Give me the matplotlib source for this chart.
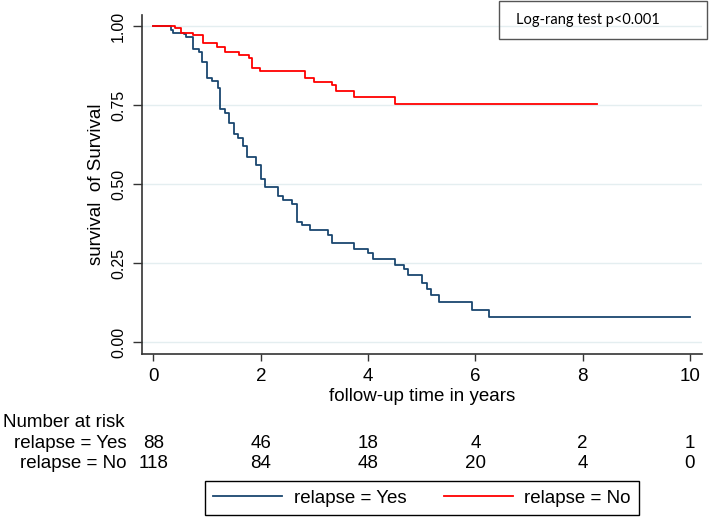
import numpy as np
import matplotlib.pyplot as plt
import matplotlib.transforms as mtransforms
from matplotlib.patches import Rectangle

# Kaplan-Meier steps (time in years, survival after the step)
yes_time = [0, 0.32, 0.37, 0.56, 0.60, 0.73, 0.84, 0.91, 1.00, 1.10, 1.21, 1.24, 1.33,
            1.40, 1.50, 1.58, 1.66, 1.74, 1.91, 2.00, 2.08, 2.33, 2.41, 2.59, 2.67,
            2.76, 2.92, 3.26, 3.33, 3.74, 4.00, 4.09, 4.50, 4.67, 4.75, 5.00, 5.09,
            5.17, 5.33, 5.93, 6.26, 10.0]
yes_surv = [1.0, 0.989, 0.977, 0.975, 0.964, 0.929, 0.917, 0.885, 0.837, 0.826, 0.803,
            0.737, 0.726, 0.692, 0.658, 0.647, 0.622, 0.587, 0.561, 0.515, 0.490, 0.463,
            0.450, 0.436, 0.381, 0.371, 0.355, 0.339, 0.313, 0.294, 0.281, 0.262, 0.244,
            0.231, 0.212, 0.187, 0.168, 0.149, 0.127, 0.102, 0.079, 0.079]

no_time = [0, 0.40, 0.51, 0.74, 0.92, 1.18, 1.33, 1.59, 1.78, 1.83, 1.99, 2.82, 2.99,
           3.32, 3.40, 3.74, 4.50, 8.26]
no_surv = [1.0, 0.993, 0.979, 0.971, 0.947, 0.935, 0.919, 0.908, 0.900, 0.866, 0.859,
           0.835, 0.824, 0.813, 0.795, 0.777, 0.752, 0.752]

# number at risk table
risk_times = [0, 2, 4, 6, 8, 10]
risk_yes = [88, 46, 18, 4, 2, 1]
risk_no = [118, 84, 48, 20, 4, 0]

navy = '#1a476f'
red = '#ff0000'
plt.rcParams['font.family'] = ['Liberation Sans', 'DejaVu Sans']

W, H = 709, 518
fig = plt.figure(figsize=(W / 100, H / 100), dpi=100)
ax = fig.add_axes([142 / W, 1 - 354 / H, (701.7 - 142) / W, (354 - 15) / H])

ax.step(yes_time, yes_surv, where='post', color=navy, lw=1.3, label='relapse = Yes')
ax.step(no_time, no_surv, where='post', color=red, lw=1.3, label='relapse = No')

ax.set_xlim(-0.214, 10.22)
ax.set_ylim(-0.037, 1.035)
ax.set_xticks([0, 2, 4, 6, 8, 10])
ax.set_yticks([0, 0.25, 0.5, 0.75, 1.0])
ax.set_yticklabels(['0.00', '0.25', '0.50', '0.75', '1.00'], rotation=90, va='center')
ax.yaxis.grid(True, color='#e4eef0', lw=1)
ax.set_axisbelow(True)
for s in ['top', 'right']:
    ax.spines[s].set_visible(False)
for s in ['left', 'bottom']:
    ax.spines[s].set_color('#333333')
    ax.spines[s].set_linewidth(1.2)
ax.tick_params(axis='x', length=5, width=1, color='#333333', labelsize=13.5, pad=5)
ax.tick_params(axis='y', length=6.5, width=1, color='#333333', labelsize=11.5, pad=5)

ax.set_xlabel('follow-up time in years', fontsize=13.5, labelpad=2)
ax.set_ylabel('survival  of Survival', fontsize=13.5, labelpad=4)

# number at risk below the plot
trans = mtransforms.blended_transform_factory(ax.transData, fig.transFigure)
fig.text(2.7 / W, 1 - 427.3 / H, 'Number at risk', fontsize=13.5, ha='left', va='baseline')
fig.text(126.7 / W, 1 - 448.3 / H, 'relapse = Yes', fontsize=13.5, ha='right', va='baseline')
fig.text(126.7 / W, 1 - 468.3 / H, 'relapse = No', fontsize=13.5, ha='right', va='baseline')
for t, a, b in zip(risk_times, risk_yes, risk_no):
    ax.text(t, 1 - 448.3 / H, str(a), transform=trans, fontsize=13.5, ha='center', va='baseline')
    ax.text(t, 1 - 468.3 / H, str(b), transform=trans, fontsize=13.5, ha='center', va='baseline')

# legend at the bottom
fig.legend(loc='center', bbox_to_anchor=(422 / W, 1 - 498 / H), ncol=2, fontsize=13.5,
           frameon=True, fancybox=False, edgecolor='black', framealpha=1,
           handlelength=3.7, handletextpad=0.6, columnspacing=2.0, borderpad=0.45,
           borderaxespad=0)

# log-rank box
fig.patches.append(Rectangle((499 / W, 1 - 39 / H), 208 / W, 38 / H, transform=fig.transFigure,
                             fill=False, edgecolor='#555555', lw=1))
fig.text(588.3 / W, 1 - 20 / H, 'Log-rang test p<0.001', fontsize=10.5, family='Lato',
         ha='center', va='center')

fig.savefig('out.png', dpi=100)
